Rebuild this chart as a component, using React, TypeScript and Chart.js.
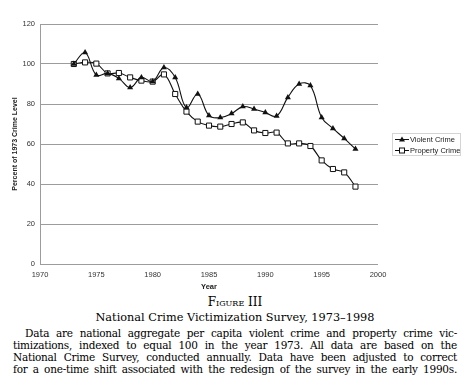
import React, { useEffect, useRef } from "react";
import { Chart, registerables } from "chart.js";

Chart.register(...registerables);

const years = [1973, 1974, 1975, 1976, 1977, 1978, 1979, 1980, 1981, 1982, 1983, 1984, 1985, 1986, 1987, 1988, 1989, 1990, 1991, 1992, 1993, 1994, 1995, 1996, 1997, 1998];
const violentCrime = [100, 105.7, 94.5, 95.3, 92.8, 88.2, 93.2, 91.3, 98.2, 93.2, 78.2, 85, 74.2, 73.2, 75.2, 78.7, 77.5, 75.7, 74, 83.3, 90, 89.2, 73.3, 67.8, 62.8, 57.5];
const propertyCrime = [100, 100.8, 100.2, 95.3, 95.5, 93.3, 91.7, 91.2, 94.8, 85, 76.2, 71.2, 69.2, 68.7, 70, 70.8, 66.8, 65.5, 65.7, 60.3, 60.3, 59, 51.8, 47.5, 45.8, 38.7];
const seriesLabels = ["Violent Crime", "Property Crime"];
const xTicks = [1970, 1975, 1980, 1985, 1990, 1995, 2000];
const yTicks = [0, 20, 40, 60, 80, 100, 120];

const figureLabel = "Figure III";
const figureTitle = "National Crime Victimization Survey, 1973–1998";
const captionLines = [
  "Data are national aggregate per capita violent crime and property crime vic-",
  "timizations, indexed to equal 100 in the year 1973. All data are based on the",
  "National Crime Survey, conducted annually. Data have been adjusted to correct",
  "for a one-time shift associated with the redesign of the survey in the early 1990s.",
];

const sansFont = "'Liberation Sans', Arial, sans-serif";

const boxLegend = {
  id: "boxLegend",
  afterDraw(chart: any) {
    const ctx = chart.ctx as CanvasRenderingContext2D;
    const x0 = 392, y0 = 133, w = 68, h = 22;
    ctx.save();
    ctx.strokeStyle = "#d4d4d4";
    ctx.lineWidth = 1;
    ctx.strokeRect(x0 + 0.5, y0 + 0.5, w, h);
    chart.data.datasets.forEach((ds: any, i: number) => {
      const y = y0 + 6.5 + i * 11;
      ctx.strokeStyle = "#111";
      ctx.lineWidth = 1;
      ctx.beginPath();
      ctx.moveTo(x0 + 3, y);
      ctx.lineTo(x0 + 17, y);
      ctx.stroke();
      const cx = x0 + 10;
      if (ds.pointStyle === "triangle") {
        ctx.fillStyle = "#111";
        ctx.beginPath();
        ctx.moveTo(cx, y - 3);
        ctx.lineTo(cx + 3, y + 2);
        ctx.lineTo(cx - 3, y + 2);
        ctx.closePath();
        ctx.fill();
      } else {
        ctx.fillStyle = "#fff";
        ctx.fillRect(cx - 2.5, y - 2.5, 5, 5);
        ctx.strokeRect(cx - 2.5, y - 2.5, 5, 5);
      }
      ctx.fillStyle = "#222";
      ctx.font = `7.5px ${sansFont}`;
      ctx.textBaseline = "middle";
      ctx.textAlign = "left";
      ctx.fillText(ds.label, x0 + 18, y);
    });
    ctx.restore();
  },
};

export default function App() {
  const ref = useRef<HTMLCanvasElement>(null);

  useEffect(() => {
    if (!ref.current) return;
    const chart = new Chart(ref.current, {
      type: "line",
      data: {
        datasets: [
          {
            label: seriesLabels[0],
            data: years.map((y, i) => ({ x: y, y: violentCrime[i] })),
            borderColor: "#111",
            borderWidth: 1.1,
            backgroundColor: "#111",
            pointStyle: "triangle",
            pointRadius: 3.5,
            pointBorderWidth: 0,
            pointBackgroundColor: "#111",
            tension: 0.4,
          },
          {
            label: seriesLabels[1],
            data: years.map((y, i) => ({ x: y, y: propertyCrime[i] })),
            borderColor: "#111",
            borderWidth: 1.1,
            backgroundColor: "#fff",
            pointStyle: "rect",
            pointRadius: 3.6,
            pointBorderWidth: 1,
            pointBorderColor: "#111",
            pointBackgroundColor: "#fff",
            tension: 0.4,
          },
        ],
      },
      options: {
        responsive: false,
        animation: false,
        layout: { padding: { left: 0, top: 24, right: 94, bottom: 0 } },
        plugins: {
          legend: { display: false },
          tooltip: { enabled: false },
        },
        scales: {
          x: {
            type: "linear",
            min: xTicks[0],
            max: xTicks[xTicks.length - 1],
            afterBuildTicks: (scale: any) => {
              scale.ticks = xTicks.map((v) => ({ value: v }));
            },
            afterFit: (scale: any) => {
              scale.height = 31;
            },
            grid: { display: false, drawTicks: false },
            border: { display: false },
            ticks: {
              callback: (v: any) => String(v),
              font: { size: 7.5, family: sansFont },
              color: "#333",
              padding: 6,
              maxRotation: 0,
            },
            title: {
              display: true,
              text: "Year",
              font: { size: 7.5, weight: "bold", family: sansFont },
              color: "#222",
              padding: { top: 0, bottom: 4 },
            },
          },
          y: {
            min: yTicks[0],
            max: yTicks[yTicks.length - 1],
            afterBuildTicks: (scale: any) => {
              scale.ticks = yTicks.map((v) => ({ value: v }));
            },
            afterFit: (scale: any) => {
              scale.width = 40;
            },
            grid: { color: "#9c9c9c", lineWidth: 1, drawTicks: false },
            border: { display: true, color: "#9c9c9c" },
            ticks: {
              callback: (v: any) => String(v),
              font: { size: 7.5, family: sansFont },
              color: "#333",
              padding: 5,
            },
            title: {
              display: true,
              text: "Percent of 1973 Crime Level",
              font: { size: 7, weight: "bold", family: sansFont },
              color: "#222",
              padding: { top: 11, bottom: 0 },
            },
          },
        },
      },
      plugins: [boxLegend],
    } as any);
    return () => chart.destroy();
  }, []);

  const serif = "'DejaVu Serif', serif";
  const lineTops = [327, 339, 351, 363];

  return (
    <div style={{ position: "absolute", left: 0, top: 0, width: 472, height: 386, background: "#fff", overflow: "hidden" }}>
      <canvas ref={ref} width={472} height={295} style={{ position: "absolute", left: 0, top: 0, width: 472, height: 295 }} />
      <div style={{ position: "absolute", left: 0, width: 470, top: 295, lineHeight: "15px", textAlign: "center", fontFamily: serif, fontSize: 12, fontVariant: "small-caps", color: "#000" }}>
        {figureLabel}
      </div>
      <div style={{ position: "absolute", left: 0, width: 470, top: 311, lineHeight: "14px", textAlign: "center", fontFamily: serif, fontSize: 11.3, color: "#000" }}>
        {figureTitle}
      </div>
      {captionLines.map((line, i) => (
        <div
          key={i}
          style={{
            position: "absolute",
            left: i === 0 ? 25 : 13,
            width: i === 0 ? 432 : 444,
            top: lineTops[i],
            lineHeight: "12px",
            fontFamily: serif,
            fontSize: 10.5,
            letterSpacing: -0.25,
            color: "#000",
            textAlign: "justify",
            textAlignLast: "justify" as any,
            whiteSpace: "nowrap",
          }}
        >
          {line}
        </div>
      ))}
    </div>
  );
}
